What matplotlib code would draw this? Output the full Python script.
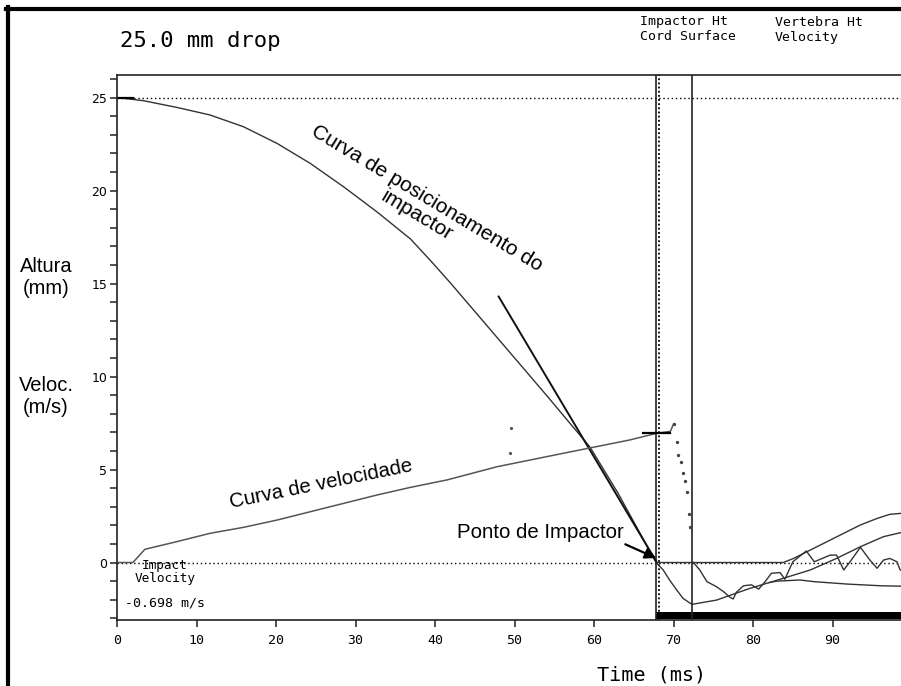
import matplotlib
matplotlib.use("Agg")
import matplotlib.pyplot as plt
from matplotlib.lines import Line2D

# impactor height (mm) vs time (ms), through contact and rebound
imp_t = [0, 3.3, 7.5, 11.7, 15.9, 20.1, 24.3, 28.5, 32.7, 36.9, 39.5, 42.0, 45.0, 48.0,
         51.0, 54.0, 57.0, 59.5, 63.0, 67.8, 68.7, 69.5, 70.4, 71.2, 72.3, 75.4, 79.6,
         83.8, 87.2, 90.5, 93.5, 96.4, 98.5, 101.5]
imp_h = [25.0, 24.83, 24.47, 24.06, 23.43, 22.54, 21.46, 20.2, 18.85, 17.4, 16.2, 15.0, 13.5, 12.0,
         10.5, 9.0, 7.47, 6.2, 3.74, 0.0, -0.40, -0.94, -1.48, -1.93, -2.25, -2.02, -1.39,
         -0.85, -0.40, 0.22, 0.85, 1.39, 1.60, 1.75]

# tangent drawn at impact
tan_t = [48.0, 67.9]
tan_h = [14.3, 0.0]

# velocity (m/s, scaled) vs time
vel_t = [0, 2.0, 3.5, 7.5, 11.7, 15.9, 20.1, 24.3, 28.5, 32.7, 36.9, 41.5, 47.8, 56.1, 64.5,
         67.9, 69.6, 70.0, 70.4, 70.6, 70.9, 71.2, 71.5, 71.7, 71.9, 72.1, 72.5, 73.3, 74.2,
         75.4, 76.3, 77.1, 77.5, 77.9, 78.8, 79.8, 80.7, 81.5, 82.3, 83.4, 84.0, 85.0, 86.7,
         87.7, 89.7, 90.5, 91.4, 92.2, 93.5, 94.7, 95.6, 96.4, 97.2, 98.1, 98.5, 101.5]
vel_v = [0, 0, 0.71, 1.12, 1.57, 1.89, 2.28, 2.73, 3.18, 3.63, 4.04, 4.44, 5.15, 5.87, 6.59,
         6.95, 7.05, 7.45, 6.5, 5.8, 5.4, 4.8, 4.4, 3.8, 2.6, 1.9, 0.0, -0.40, -1.03,
         -1.30, -1.57, -1.87, -1.96, -1.6, -1.25, -1.2, -1.43, -1.04, -0.58, -0.54, -0.9, 0.04, 0.62,
         0.04, 0.40, 0.40, -0.40, 0.04, 0.82, 0.13, -0.31, 0.13, 0.22, 0.04, -0.40, -0.7]
drop_start, drop_end = 17, 26      # sparse samples during the fast drop

# stray velocity samples
stray_t = [49.6, 49.4]
stray_v = [7.25, 5.87]

# cord surface and vertebra traces after contact
cord_t = [67.8, 83.8, 85.1, 87.2, 89.3, 91.4, 93.5, 95.6, 97.2, 98.5, 101.5]
cord_h = [0.0, 0.0, 0.22, 0.67, 1.12, 1.57, 2.02, 2.37, 2.59, 2.64, 2.67]
vert_t = [82.0, 83.0, 85.9, 87.7, 91.9, 96.1, 98.5, 101.5]
vert_h = [-1.08, -1.0, -0.94, -1.03, -1.16, -1.25, -1.27, -1.29]

# cursor events
t_contact = 67.8
t_contact_dot = 68.15
t_peak = 72.3
cursor_t = [(0.1, 2.0), (66.2, 69.6)]
cursor_y = [25.0, 6.95]

W, H = 901, 686
fig = plt.figure(figsize=(W / 100, H / 100), dpi=100)

def fx(px):
    return px / W

def fy(py):
    return 1 - py / H

ax = fig.add_axes([fx(117), fy(620), (924 - 117) / W, (620 - 75) / H])
ax.set_xlim(0, 101.5)
ax.set_ylim(-3.09, 26.21)

lc = "#333333"
ax.axhline(25, color="black", lw=1, ls=(0, (1, 2)))
ax.axhline(0, color="black", lw=1, ls=(0, (1, 2)))
ax.axvline(t_contact, color="#222222", lw=1.2)
ax.axvline(t_contact_dot, color="black", lw=1.3, ls=(0, (1, 1.3)))
ax.axvline(t_peak, color="#222222", lw=1.2)

ax.plot(imp_t, imp_h, color=lc, lw=1.0)
ax.plot(tan_t, tan_h, color="#111111", lw=1.4)
ax.plot(vel_t[:drop_start + 1], vel_v[:drop_start + 1], color="#555555", lw=1.1)
ax.plot(vel_t[drop_start:drop_end], vel_v[drop_start:drop_end], ls="none",
        marker="o", ms=1.4, color="#444444")
ax.plot(vel_t[drop_end:], vel_v[drop_end:], color=lc, lw=1.0)
ax.plot(stray_t, stray_v, ls="none", marker="o", ms=1.3, color="#555555")
ax.plot(cord_t, cord_h, color=lc, lw=1.0)
ax.plot(vert_t, vert_h, color=lc, lw=1.0)
for (t0, t1), y in zip(cursor_t, cursor_y):
    ax.plot([t0, t1], [y, y], color="black", lw=1.6)

ax.fill_between([t_contact, 101.5], -3.04, -2.65, color="black", lw=0)

# axes style
for s in ax.spines.values():
    s.set_linewidth(1.2)
    s.set_color("#222222")
ax.set_xticks(range(0, 101, 10))
ax.set_yticks(range(0, 26, 5))
ax.set_yticks(range(-3, 27), minor=True)
ax.tick_params(axis="both", which="both", direction="out", length=5, width=1.1, color="#222222")
ax.tick_params(axis="x", pad=5)
ax.tick_params(axis="y", pad=2)
for lab in ax.get_xticklabels():
    lab.set_fontfamily("DejaVu Sans Mono")
    lab.set_fontsize(9.5)
for lab in ax.get_yticklabels():
    lab.set_fontfamily("DejaVu Sans")
    lab.set_fontsize(9)

# annotations in the plot
sans = "Liberation Sans"
ax.text(38.3, 19.1, "Curva de posicionamento do\nimpactor", family=sans, fontsize=15,
        rotation=-31, rotation_mode="anchor", ha="center", va="center", linespacing=1.05)
ax.text(25.7, 4.22, "Curva de velocidade", family=sans, fontsize=14.7,
        rotation=11.5, rotation_mode="anchor", ha="center", va="center")
ax.annotate("Ponto de Impactor", xy=(67.8, 0.24), xytext=(53.3, 1.64),
            family=sans, fontsize=14.7, ha="center", va="center",
            arrowprops=dict(arrowstyle="-|>", color="black", lw=1.6, mutation_scale=16,
                            shrinkA=0, shrinkB=0, relpos=(0.97, 0.0)))
ax.text(6.0, -0.51, "Impact\nVelocity", family="DejaVu Sans Mono", fontsize=9.2,
        ha="center", va="center", linespacing=0.95)
ax.text(1.0, -2.18, "-0.698 m/s", family="DejaVu Sans Mono", fontsize=9.5,
        ha="left", va="center")

# texts outside the axes
mono = "DejaVu Sans Mono"
fig.text(fx(120), fy(41), "25.0 mm drop", family=mono, fontsize=16, ha="left", va="center")
fig.text(fx(640), fy(22), "Impactor Ht", family=mono, fontsize=9.5, ha="left", va="center")
fig.text(fx(640), fy(37), "Cord Surface", family=mono, fontsize=9.5, ha="left", va="center")
fig.text(fx(775), fy(22), "Vertebra Ht", family=mono, fontsize=9.5, ha="left", va="center")
fig.text(fx(775), fy(37), "Velocity", family=mono, fontsize=9.5, ha="left", va="center")
fig.text(fx(652), fy(675), "Time (ms)", family=mono, fontsize=14.5, ha="center", va="center")
fig.text(fx(46), fy(277), "Altura\n(mm)", family=sans, fontsize=14.5, ha="center", va="center")
fig.text(fx(46), fy(396), "Veloc.\n(m/s)", family=sans, fontsize=14.5, ha="center", va="center")

# frame of the original screen capture
fig.add_artist(Line2D([fx(6), fx(W)], [fy(9), fy(9)], color="black", lw=3))
fig.add_artist(Line2D([fx(8), fx(8)], [fy(7), fy(H)], color="black", lw=3))

fig.savefig("out.png", dpi=100)
